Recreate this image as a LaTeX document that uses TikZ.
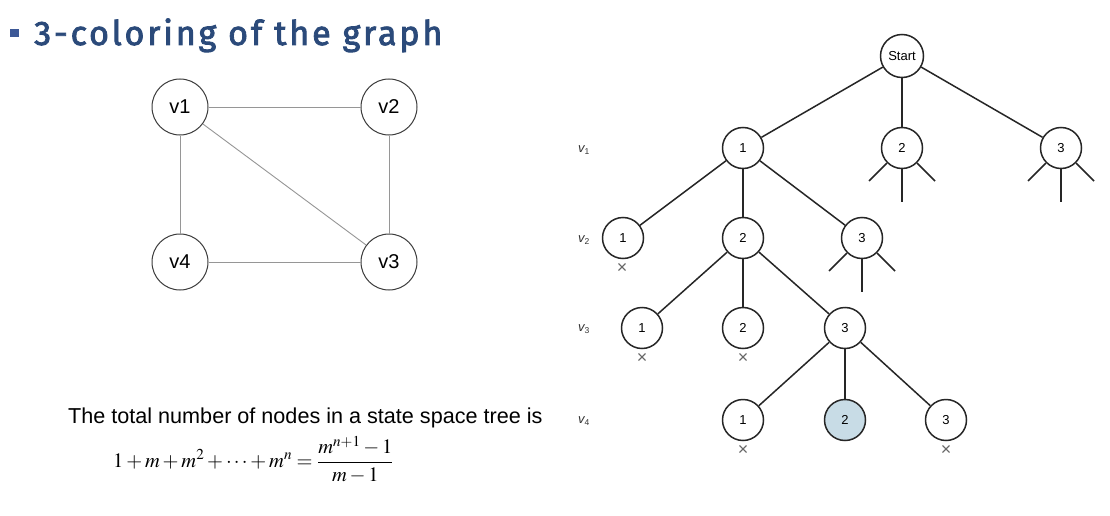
\documentclass[tikz,border=0pt]{standalone}
\usepackage{mathptmx}
\usepackage[no-math]{fontspec}
\setmainfont{Liberation Sans}
\newfontfamily\titlefont[LetterSpace=8.5,FakeBold=2.5]{Fira Sans}
\usetikzlibrary{calc}
\definecolor{titleblue}{RGB}{43,74,122}
\definecolor{bulletblue}{RGB}{60,88,150}
\definecolor{leaffill}{RGB}{200,220,230}
\definecolor{edgegray}{RGB}{150,150,150}
\definecolor{circgray}{RGB}{60,60,60}
\begin{document}
\begin{tikzpicture}[x=1pt,y=-1pt,
  gnode/.style={circle,draw=circgray,line width=1pt,minimum size=56pt,inner sep=0pt,font=\fontsize{20}{22}\selectfont},
  gedge/.style={draw=edgegray,line width=0.9pt},
  tnode/.style={circle,draw=black!85,line width=1.5pt,minimum size=41pt,inner sep=0pt,font=\fontsize{13}{15}\selectfont},
  tedge/.style={draw=black!85,line width=1.5pt},
  xmark/.style={inner sep=0pt,text=black!60,font=\fontsize{18}{18}\selectfont},
  lvl/.style={inner sep=0pt,text=black!80,font=\fontsize{13}{15}\selectfont\itshape}]
\useasboundingbox (0,0) rectangle (1110,516);
\fill[white] (0,0) rectangle (1110,516);
% title
\fill[bulletblue] (10,29) rectangle (19,37);
\node[anchor=base west,inner sep=0pt,text=titleblue,font=\titlefont\fontsize{34}{37}\selectfont] (title) at (34,45) {3-coloring of the graph};
% graph
\node[gnode] (v1) at (180,107) {v1};
\node[gnode] (v2) at (389,107) {v2};
\node[gnode] (v3) at (389,262) {v3};
\node[gnode] (v4) at (180,262) {v4};
\draw[gedge] (v1) -- (v2);
\draw[gedge] (v2) -- (v3);
\draw[gedge] (v3) -- (v4);
\draw[gedge] (v4) -- (v1);
\draw[gedge] (v1) -- (v3);
% text and formula
\node[anchor=base west,inner sep=0pt,font=\fontsize{21.6}{24}\selectfont] (caption) at (68,423) {The total number of nodes in a state space tree is};
\node[anchor=west,inner sep=0pt,font=\fontsize{20.5}{24}\selectfont] (formula) at (113,460) {$\displaystyle 1+m+m^2+\cdots+m^n=\frac{m^{n+1}-1}{m-1}$};
% tree
\node[tnode,minimum size=43pt] (s) at (902,56) {Start};
\node[tnode] (a1) at (743,148) {1};
\node[tnode] (a2) at (902,148) {2};
\node[tnode] (a3) at (1061,148) {3};
\node[tnode] (b1) at (623,238) {1};
\node[tnode] (b2) at (743,238) {2};
\node[tnode] (b3) at (862,238) {3};
\node[tnode] (c1) at (642,328) {1};
\node[tnode] (c2) at (743,328) {2};
\node[tnode] (c3) at (845,328) {3};
\node[tnode] (d1) at (743,420) {1};
\node[tnode,fill=leaffill] (d2) at (845,420) {2};
\node[tnode] (d3) at (946,420) {3};
\foreach \p/\c in {s/a1,s/a2,s/a3,a1/b1,a1/b2,a1/b3,b2/c1,b2/c2,b2/c3,c3/d1,c3/d2,c3/d3}
  \draw[tedge] (\p) -- (\c);
% stubs
\foreach \n in {a2,a3,b3}{
  \draw[tedge] (\n) -- +(-33,33);
  \draw[tedge] (\n) -- +(0,54);
  \draw[tedge] (\n) -- +(33,33);
}
% crosses
\node[xmark] (xb1) at (622,268) {×};
\node[xmark] (xc1) at (642,358) {×};
\node[xmark] (xc2) at (743,358) {×};
\node[xmark] (xd1) at (743,450) {×};
\node[xmark] (xd3) at (946,450) {×};
% level labels
\node[lvl] (l1) at (584,150) {v\textsubscript{\upshape\fontsize{8.5}{8}\selectfont 1}};
\node[lvl] (l2) at (584,240) {v\textsubscript{\upshape\fontsize{8.5}{8}\selectfont 2}};
\node[lvl] (l3) at (584,329) {v\textsubscript{\upshape\fontsize{8.5}{8}\selectfont 3}};
\node[lvl] (l4) at (584,421) {v\textsubscript{\upshape\fontsize{8.5}{8}\selectfont 4}};
\end{tikzpicture}
\end{document}
